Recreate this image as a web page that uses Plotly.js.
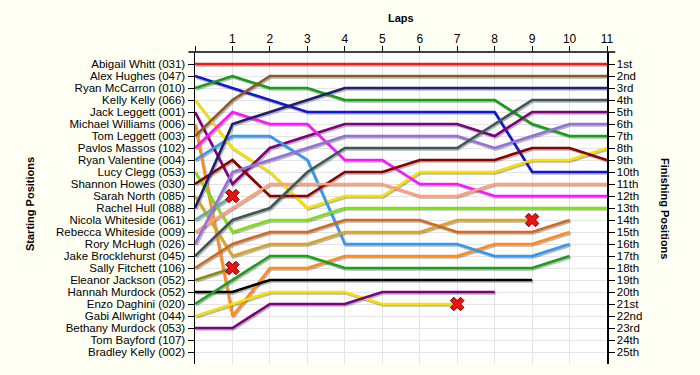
<!DOCTYPE html>
<html>
<head>
<meta charset="utf-8">
<script src="https://cdn.plot.ly/plotly-3.0.1.min.js"></script>
<style>html,body{margin:0;padding:0;background:#fffff4;}#chart{width:700px;height:375px;}</style>
</head>
<body>
<div id="chart"></div>
<script>
// ---- data ----
const laps = [0,1,2,3,4,5,6,7,8,9,10,11];
const lapLabels = ['', '1','2','3','4','5','6','7','8','9','10','11'];
const startingNames = [
  'Abigail Whitt (031)','Alex Hughes (047)','Ryan McCarron (010)','Kelly Kelly (066)',
  'Jack Leggett (001)','Michael Williams (006)','Tom Leggett (003)','Pavlos Massos (102)',
  'Ryan Valentine (004)','Lucy Clegg (053)','Shannon Howes (030)','Sarah North (085)',
  'Rachel Hull (088)','Nicola Whiteside (061)','Rebecca Whiteside (009)','Rory McHugh (026)',
  'Jake Brocklehurst (045)','Sally Fitchett (106)','Eleanor Jackson (052)','Hannah Murdock (052)',
  'Enzo Daghini (020)','Gabi Allwright (044)','Bethany Murdock (053)','Tom Bayford (107)',
  'Bradley Kelly (002)'
];
const finishingLabels = ['1st','2nd','3rd','4th','5th','6th','7th','8th','9th','10th','11th','12th',
  '13th','14th','15th','16th','17th','18th','19th','20th','21st','22nd','23rd','24th','25th'];

// positions per lap (index = lap, starting at lap 0 = grid)
const abigailWhitt      = [1,1,1,1,1,1,1,1,1,1,1,1];
const alexHughes        = [2,3,4,5,5,5,5,5,5,10,10,10];
const ryanMcCarron      = [3,2,3,3,4,4,4,4,4,6,7,7];
const kellyKelly        = [4,8,10,13,12,12,10,10,10,9,9,8];
const jackLeggett       = [5,11,8,7,6,6,6,6,7,5,5,5];
const michaelWilliams   = [6,22,18,18,17,17,17,17,16,16,15];
const tomLeggett        = [7,4,2,2,2,2,2,2,2,2,2,2];
const pavlosMassos      = [8,5,6,6,9,9,11,11,12,12,12,12];
const ryanValentine     = [9,7,7,9,16,16,16,16,17,17,16];
const lucyClegg         = [10,15,14,14,13,13,13,13,13,13,13,13];
const shannonHowes      = [11,9,12,12,10,10,9,9,9,8,8,9];
const sarahNorth        = [12,17,16,16,15,15,15,14,14,14];
const rachelHull        = [13,6,5,4,3,3,3,3,3,3,3,3];
const nicolaWhiteside   = [14,12];
const rebeccaWhiteside  = [15,13,11,11,11,11,12,12,11,11,11,11];
const roryMcHugh        = [16,10,9,8,7,7,7,7,8,7,6,6];
const jakeBrocklehurst  = [17,14,13,10,8,8,8,8,6,4,4,4];
const sallyFitchett     = [18,16,15,15,14,14,14,15,15,15,14];
const eleanorJackson    = [19,18];
const hannahMurdock     = [20,20,19,19,19,19,19,19,19,19];
const enzoDaghini       = [21,19,17,17,18,18,18,18,18,18,17];
const gabiAllwright     = [22,21,20,20,20,21,21,21];
const bethanyMurdock    = [23,23,21,21,21,20,20,20,20];

const retiredDrivers = ['Nicola Whiteside (061)','Eleanor Jackson (052)','Sarah North (085)','Gabi Allwright (044)'];

const driverSeries = [
  ['Abigail Whitt (031)', abigailWhitt],
  ['Alex Hughes (047)', alexHughes],
  ['Ryan McCarron (010)', ryanMcCarron],
  ['Kelly Kelly (066)', kellyKelly],
  ['Jack Leggett (001)', jackLeggett],
  ['Michael Williams (006)', michaelWilliams],
  ['Tom Leggett (003)', tomLeggett],
  ['Pavlos Massos (102)', pavlosMassos],
  ['Ryan Valentine (004)', ryanValentine],
  ['Lucy Clegg (053)', lucyClegg],
  ['Shannon Howes (030)', shannonHowes],
  ['Sarah North (085)', sarahNorth],
  ['Rachel Hull (088)', rachelHull],
  ['Nicola Whiteside (061)', nicolaWhiteside],
  ['Rebecca Whiteside (009)', rebeccaWhiteside],
  ['Rory McHugh (026)', roryMcHugh],
  ['Jake Brocklehurst (045)', jakeBrocklehurst],
  ['Sally Fitchett (106)', sallyFitchett],
  ['Eleanor Jackson (052)', eleanorJackson],
  ['Hannah Murdock (052)', hannahMurdock],
  ['Enzo Daghini (020)', enzoDaghini],
  ['Gabi Allwright (044)', gabiAllwright],
  ['Bethany Murdock (053)', bethanyMurdock]
];

// ---- styles ----
const colors = ['#f01818','#1414d2','#14a014','#f5e000','#800080','#ff8c1a','#8b5a2b','#ff14ff',
  '#3399ee','#7ee010','#8b0000','#daa520','#1f1f70','#5fb0a0','#ffa07a','#9370db','#3d5656',
  '#d2691e','#8a8a10','#000000','#1ca01c','#f5e000','#800080'];

const traces = [];
driverSeries.forEach(([name, pos], i) => {
  const xs = laps.slice(0, pos.length);
  // shadow
  traces.push({x: xs.map(v => v + 0.03), y: pos.map(v => v + 0.11), mode: 'lines', type: 'scatter',
    line: {color: 'rgba(0,0,0,0.28)', width: 3}, hoverinfo: 'skip', showlegend: false});
});
driverSeries.forEach(([name, pos], i) => {
  const xs = laps.slice(0, pos.length);
  traces.push({x: xs, y: pos, mode: 'lines', type: 'scatter', name: name,
    line: {color: colors[i], width: 2.6}, showlegend: false});
});
driverSeries.forEach(([name, pos], i) => {
  if (retiredDrivers.includes(name)) {
    traces.push({x: [pos.length - 1], y: [pos[pos.length - 1]], mode: 'markers', type: 'scatter',
      marker: {symbol: 'x', size: 12, color: '#ee1111', line: {color: '#700000', width: 1}},
      showlegend: false, hoverinfo: 'skip'});
  }
});
// invisible trace so the right axis is drawn
traces.push({x: [0], y: [1], yaxis: 'y2', mode: 'markers', marker: {opacity: 0}, showlegend: false, hoverinfo: 'skip'});

const fam = 'Liberation Sans, Arial, sans-serif';
const tickFont = {family: fam, size: 11.5, color: '#000'};
const layout = {
  width: 700, height: 375,
  paper_bgcolor: '#fffff4', plot_bgcolor: '#ffffff',
  margin: {l: 195, r: 93, t: 52, b: 11, pad: 0},
  showlegend: false,
  xaxis: {side: 'top', range: [0, 11], tickvals: laps, ticktext: lapLabels,
    ticks: 'outside', ticklen: 5, tickcolor: '#000', tickwidth: 1, ticklabelstandoff: -2,
    showgrid: true, gridcolor: '#e4e4e4', gridwidth: 1, zeroline: false,
    showline: false, tickfont: {family: fam, size: 12, color: '#000'}},
  yaxis: {range: [26, 0], tickvals: startingNames.map((_, i) => i + 1), ticktext: startingNames,
    ticks: 'outside', ticklen: 6, tickcolor: '#000', showgrid: true, gridcolor: '#e4e4e4',
    zeroline: false, showline: true, linecolor: '#000', linewidth: 1.5, tickfont: tickFont},
  yaxis2: {overlaying: 'y', side: 'right', range: [26, 0],
    tickvals: finishingLabels.map((_, i) => i + 1), ticktext: finishingLabels,
    ticks: 'outside', ticklen: 6, tickcolor: '#000', showgrid: false, zeroline: false,
    showline: true, linecolor: '#000', linewidth: 1.5, tickfont: tickFont},
  shapes: [
    {type: 'line', xref: 'paper', yref: 'paper', x0: -0.016, x1: 1.02, y0: 1, y1: 1,
     line: {color: '#000', width: 1.5}}
  ],
  annotations: [
    {text: '<b>Laps</b>', xref: 'paper', yref: 'paper', x: 0.5, y: 1, yanchor: 'middle', xanchor: 'center',
     yshift: 34, showarrow: false, font: {family: fam, size: 11, color: '#000'}},
    {text: '<b>Starting Positions</b>', xref: 'paper', yref: 'paper', x: 0, xshift: -165, y: 0.5, yshift: 4,
     xanchor: 'center', yanchor: 'middle',
     textangle: -90, showarrow: false, font: {family: fam, size: 11, color: '#000'}},
    {text: '<b>Finishing Positions</b>', xref: 'paper', yref: 'paper', x: 1, xshift: 58, y: 0.5,
     xanchor: 'center', yanchor: 'middle',
     textangle: 90, showarrow: false, font: {family: fam, size: 11, color: '#000'}}
  ]
};
Plotly.newPlot('chart', traces, layout, {staticPlot: true});
</script>
</body>
</html>
